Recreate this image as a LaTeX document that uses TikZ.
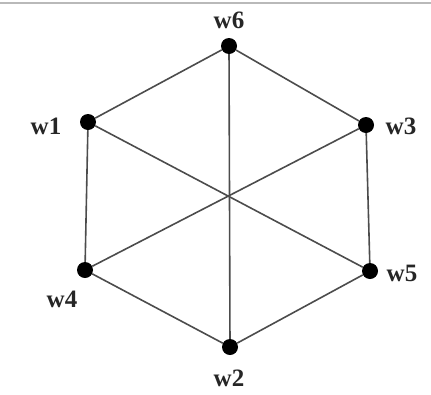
\documentclass[tikz,border=0pt]{standalone}
\usepackage{fontspec}
\setmainfont{Liberation Serif}
\usepackage{tikz}
\usetikzlibrary{positioning,calc}

\tikzset{
    vtx/.style={circle,fill=black,inner sep=0pt,minimum size=16pt},
    lbl/.style={font=\fontsize{25}{26}\selectfont\bfseries,text=black!85,inner sep=0pt},
    edge/.style={draw=black!70,line width=1.6pt}
}

\begin{document}
\begin{tikzpicture}[x=1pt,y=-1pt]
                    \useasboundingbox (0,0) rectangle (431,394);
                    % frame line at top
                    \draw[gray!55,line width=1.5pt] (0,3) -- (431,3);

                    % vertices
                    \node[vtx] (w6) at (229,46) {};
                    \node[vtx] (w1) at (88,122) {};
                    \node[vtx] (w3) at (366,125) {};
                    \node[vtx] (w4) at (85,270) {};
                    \node[vtx] (w5) at (370,271) {};
                    \node[vtx] (w2) at (230,347) {};

                    % labels
                    \node[lbl] (l6) at (229,20) {w6};
                    \node[lbl] (l1) at (46,126) {w1};
                    \node[lbl] (l3) at (401,126) {w3};
                    \node[lbl] (l4) at (62,299) {w4};
                    \node[lbl] (l5) at (402,273) {w5};
                    \node[lbl] (l2) at (229,378) {w2};

                    % hexagon
                    \foreach \a/\b in {w6/w3,w3/w5,w5/w2,w2/w4,w4/w1,w1/w6} {
                        \draw[edge] (\a) -- (\b);
                    }
                    % diagonals
                    \foreach \a/\b in {w6/w2,w1/w5,w4/w3} {
                        \draw[edge] (\a) -- (\b);
                    }
\end{tikzpicture}
\end{document}
